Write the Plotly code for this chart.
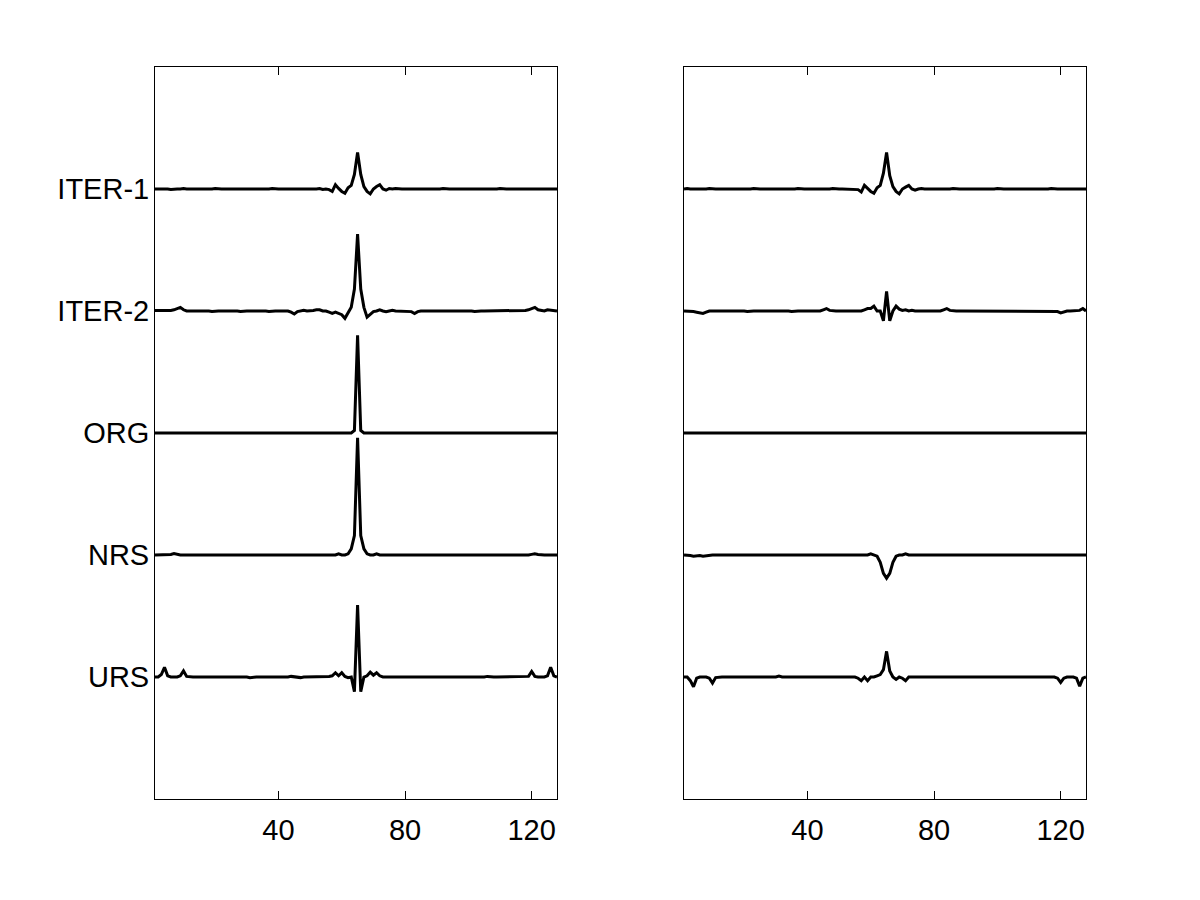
import plotly.graph_objects as go

X = list(range(1, 129))

LABELS = ["URS", "NRS", "ORG", "ITER-2", "ITER-1"]
OFFSETS = [1, 2, 3, 4, 5]
XTICKS = [40, 80, 120]

# ---------------- left panel ----------------
L_ITER1 = [
    0, 0, 0.004, 0, 0, -0.004, 0, 0, 0, 0.004, 0, 0, 0, 0, -0.004, 0,
    0, 0, 0, 0.004, 0, 0, 0, 0, 0, 0, -0.004, 0, 0, 0, 0, 0,
    0, 0, 0, 0, 0, 0.004, 0, 0, 0, 0, 0, 0, -0.004, 0, 0, 0,
    0, 0, 0, 0, 0.004, -0.004, 0, -0.005, -0.02, 0.035, 0.005, -0.02, -0.035, 0.01, 0.03, 0.12,
    0.30, 0.12, 0.02, -0.02, -0.04, 0.0, 0.02, 0.035, 0.0, -0.01, 0.004, 0, 0.004, 0, 0, 0,
    0, 0, 0, -0.004, 0, 0, 0, 0, 0, 0, 0, 0.004, 0, 0, 0, 0,
    0, 0, 0, 0, -0.004, 0, 0, 0, 0, 0, 0, 0, 0, 0.004, 0, 0,
    0, 0, 0, 0, 0, 0, 0, 0, 0, 0, 0.004, 0, 0, 0, 0, 0,
]
L_ITER2 = [
    0.005, 0.005, 0, 0, 0, 0.005, 0.01, 0.02, 0.03, 0.01, 0, 0, 0, 0.005, 0, 0,
    0, 0, -0.004, 0, 0, 0, 0, 0.004, 0, 0, 0, -0.004, 0, 0, 0, 0,
    0, 0.004, 0, 0, -0.004, 0, 0, 0, 0, 0.004, 0, -0.01, -0.025, -0.005, 0, 0.005,
    0, 0, 0.005, 0.01, 0.01, 0.0, 0.0, -0.01, -0.02, -0.01, -0.02, -0.03, -0.06, -0.02, 0.03, 0.18,
    0.63, 0.18, 0.03, -0.05, -0.03, -0.005, 0.0, 0.01, 0.0, -0.005, 0.0, 0.005, 0, 0, 0, 0,
    0, -0.005, -0.02, -0.005, 0, 0, 0, 0.004, 0, 0, 0, 0, 0, 0, 0, 0,
    0, 0, 0, 0, 0, -0.004, 0, 0, 0, 0, 0, 0, 0, 0, 0, 0,
    0, 0, 0, 0, 0, 0.005, 0.01, 0.02, 0.03, 0.01, 0.005, 0.0, 0.01, 0.005, 0, 0,
]
L_ORG = [
    0, 0, 0, 0, 0, 0, 0, 0, 0, 0, 0, 0, 0, 0, 0, 0,
    0, 0, 0, 0, 0, 0, 0, 0, 0, 0, 0, 0, 0, 0, 0, 0,
    0, 0, 0, 0, 0, 0, 0, 0, 0, 0, 0, 0, 0, 0, 0, 0,
    0, 0, 0, 0, 0, 0, 0, 0, 0, 0, 0, 0, 0, 0, 0, 0.02,
    0.80, 0.02, 0, 0, 0, 0, 0, 0, 0, 0, 0, 0, 0, 0, 0, 0,
    0, 0, 0, 0, 0, 0, 0, 0, 0, 0, 0, 0, 0, 0, 0, 0,
    0, 0, 0, 0, 0, 0, 0, 0, 0, 0, 0, 0, 0, 0, 0, 0,
    0, 0, 0, 0, 0, 0, 0, 0, 0, 0, 0, 0, 0, 0, 0, 0,
]
L_NRS = [
    0, 0, 0, 0, 0, 0.005, 0.012, 0.005, 0, 0, 0, 0, 0, 0, 0, 0,
    0, 0, 0, 0, 0, 0, 0, 0, 0, 0, 0, 0, 0, 0, 0, 0,
    0, 0, 0, 0, 0, 0, 0, 0, 0, 0, 0, 0, 0, 0, 0, -0.005,
    -0.004, 0, 0, 0, 0, 0, 0, 0, 0, 0, 0.01, 0, 0, 0.01, 0.05, 0.16,
    0.96, 0.16, 0.05, 0.01, 0, 0, 0.01, 0, 0, 0, 0, 0, 0, 0, 0, 0,
    -0.004, 0, 0, 0, 0, 0, 0, 0, 0, 0, 0, 0, 0, 0, 0, 0,
    0, 0, 0, 0, 0, 0, 0, 0, 0, 0, 0, 0, 0, 0, 0, 0,
    0, 0, 0, 0, 0, 0, 0, 0.005, 0.01, 0.005, 0, 0, 0, 0, 0, 0,
]
L_URS = [
    0, 0, 0.02, 0.08, 0.01, 0, 0, 0, 0.01, 0.05, 0.005, 0, 0, 0, 0, 0,
    0, 0, 0, 0.006, 0, 0, 0, 0, 0.005, 0, 0, 0, 0, 0, -0.006, 0,
    0, 0, 0, 0, 0, 0, 0, 0, -0.005, 0, 0, 0.005, 0, 0, -0.005, 0,
    0, 0, 0, 0, 0, 0, 0, 0.005, 0.01, 0.035, 0.01, 0.035, 0.005, -0.005, 0.0, -0.12,
    0.59, -0.12, 0.0, 0.01, 0.04, 0.015, 0.035, 0.01, 0.0, 0, 0, 0, 0, 0, -0.005, 0,
    0, 0, 0, 0, 0, -0.005, 0, 0, 0, 0, 0, 0, 0, 0, 0, 0,
    0, -0.005, 0, 0, 0, 0, 0, 0, 0, 0.005, 0, 0, 0, 0, 0, 0,
    0, 0, 0, 0, 0, 0, 0.005, 0.045, 0.005, 0, 0, 0, 0.01, 0.08, 0.01, 0.0,
]

# ---------------- right panel ----------------
R_ITER1 = [
    0, 0.004, 0, 0, -0.004, 0, 0, 0, 0.004, 0, 0, 0, 0, 0, 0, 0,
    0, -0.004, 0, 0, 0, 0, 0.004, 0, 0, 0, 0, 0, 0, 0, -0.004, 0,
    0, 0, 0, 0, 0.004, 0, 0, 0, 0, 0, 0, -0.004, 0, 0, 0, 0.004,
    0, 0, 0, 0, 0, 0, 0, -0.005, -0.025, 0.03, 0.005, -0.02, -0.035, 0.01, 0.03, 0.13,
    0.30, 0.11, 0.02, -0.02, -0.04, 0.0, 0.015, 0.03, 0.0, -0.01, 0, 0.004, 0, 0, 0, -0.004,
    0, 0, 0, 0, 0, 0.004, 0, 0, 0, 0, 0, 0, 0, -0.004, 0, 0,
    0, 0, 0, 0.004, 0, 0, 0, 0, 0, 0, -0.004, 0, 0, 0, 0, 0,
    0, 0, 0, 0, 0.004, 0, 0, 0, 0, 0, 0, 0, 0, 0.004, 0, 0,
]
R_ITER2 = [
    0, 0, 0, -0.005, -0.01, -0.015, -0.02, -0.01, 0, 0, 0, 0.004, 0, 0, 0, 0,
    0, 0, 0, 0, -0.004, 0, 0, 0, 0, 0, 0.004, 0, 0, 0, 0, 0,
    0, 0, -0.004, 0, 0, 0, 0, 0, 0, 0, 0, 0, 0.01, 0.02, 0.005, 0,
    0, 0, 0, 0.005, 0, 0, 0, 0.005, 0, 0.01, 0.02, 0.02, 0.04, 0.0, 0.0, -0.08,
    0.16, -0.08, 0.0, 0.04, 0.015, 0.005, 0.01, 0.0, 0.005, 0, 0, 0, 0, 0, 0, 0,
    0, 0, 0.01, 0.02, 0.005, 0, 0, 0, 0, 0, 0, 0, 0, 0, 0, 0,
    0, 0, 0, 0, 0, 0, 0, 0, 0, 0, 0, -0.004, 0, 0, 0, 0,
    0, 0, 0, 0, 0, 0, -0.005, -0.015, -0.005, 0, 0, 0, 0, 0.005, 0.02, 0.0,
]
R_ORG = [0] * 128
R_NRS = [
    0, 0, -0.005, -0.01, -0.005, -0.005, -0.01, -0.005, 0, 0, 0, 0, 0, 0, 0, 0,
    0, 0, 0, 0, 0, 0, 0, 0, 0, 0, 0, 0, 0, 0, 0, 0,
    0, 0, 0, 0, 0, 0, 0, 0, 0, 0, 0, 0, 0, 0, 0, 0,
    0, 0, 0, 0, 0, 0, 0, 0, 0, 0, 0, 0.01, 0, -0.01, -0.06, -0.15,
    -0.19, -0.15, -0.06, -0.01, 0.0, 0.0, 0.01, 0.0, 0, 0, 0, 0, 0, 0, 0, 0,
    0, 0, 0, 0, 0, 0, 0, 0, 0, 0, 0, 0, 0, 0, 0, 0,
    0, 0, 0, 0, 0, 0, 0, 0, 0, 0, 0, 0, 0, 0, 0, 0,
    0, 0, 0, 0, 0, 0, 0, -0.005, -0.005, 0, 0, 0, 0, 0, 0, 0,
]
R_URS = [
    0, 0, -0.03, -0.08, -0.01, 0, 0, 0, -0.01, -0.05, -0.005, 0, 0, 0, 0, 0,
    0, 0, 0, 0, 0, 0, 0, 0, 0, 0, 0, 0, 0, 0, 0.008, 0,
    0, 0, 0, 0, 0, 0, 0, 0, 0, 0.006, 0, 0, 0, 0, 0, 0.006,
    0, 0, 0, 0, 0, 0, 0, -0.01, -0.03, 0.0, -0.03, 0.0, 0.0, 0.01, 0.02, 0.06,
    0.21, 0.05, 0.0, -0.02, 0.0, -0.01, -0.03, 0.0, 0, 0, 0, 0, 0, 0, 0, 0.006,
    0, 0, 0, 0.006, 0, 0, 0, 0, 0, 0, 0, 0, 0, 0, 0, 0,
    0, 0, 0.006, 0, 0, 0, 0, 0, 0, 0, 0, 0, 0, 0, 0, 0,
    0, 0, 0, 0, 0, 0, -0.01, -0.045, -0.01, 0, 0, 0, -0.01, -0.075, -0.01, 0.0,
]

LEFT = [L_URS, L_NRS, L_ORG, L_ITER2, L_ITER1]
RIGHT = [R_URS, R_NRS, R_ORG, R_ITER2, R_ITER1]

FONT = "Liberation Sans, Arial, sans-serif"
FSIZE = 29
LINE_W = 3

# page body has an 8px margin, so pixel targets are shifted by 8
SH = 8
W, H = 1200, 900

fig = go.Figure()
for series, off in zip(LEFT, OFFSETS):
    fig.add_trace(go.Scatter(x=X, y=[v + off for v in series], mode="lines",
                             line=dict(color="black", width=LINE_W),
                             xaxis="x", yaxis="y", showlegend=False,
                             hoverinfo="skip"))
for series, off in zip(RIGHT, OFFSETS):
    fig.add_trace(go.Scatter(x=X, y=[v + off for v in series], mode="lines",
                             line=dict(color="black", width=LINE_W),
                             xaxis="x2", yaxis="y2", showlegend=False,
                             hoverinfo="skip"))

xcommon = dict(range=[1, 128], tickvals=XTICKS, ticks="inside", ticklen=8,
               tickcolor="black", tickwidth=1, showline=True, linecolor="black",
               linewidth=1, mirror="ticks", showgrid=False, zeroline=False,
               ticklabelstandoff=5,
               tickfont=dict(family=FONT, size=FSIZE, color="black"))
ycommon = dict(range=[0, 6], showline=True, linecolor="black", linewidth=1,
               mirror=True, showgrid=False, zeroline=False, ticks="",
               tickvals=OFFSETS)

ydom = [1 - (799 - SH) / H, 1 - (67 - SH) / H]

fig.update_layout(
    width=W, height=H,
    paper_bgcolor="white", plot_bgcolor="white",
    margin=dict(l=0, r=0, t=0, b=0),
    xaxis=dict(domain=[(155 - SH) / W, (557 - SH) / W], anchor="y", **xcommon),
    xaxis2=dict(domain=[(684 - SH) / W, (1086 - SH) / W], anchor="y2", **xcommon),
    yaxis=dict(domain=ydom, anchor="x",
               ticktext=LABELS, showticklabels=True, ticklabelstandoff=-1,
               tickfont=dict(family=FONT, size=FSIZE, color="black"), **ycommon),
    yaxis2=dict(domain=ydom, anchor="x2",
                showticklabels=False, **ycommon),
)

fig.write_html("out.html")
